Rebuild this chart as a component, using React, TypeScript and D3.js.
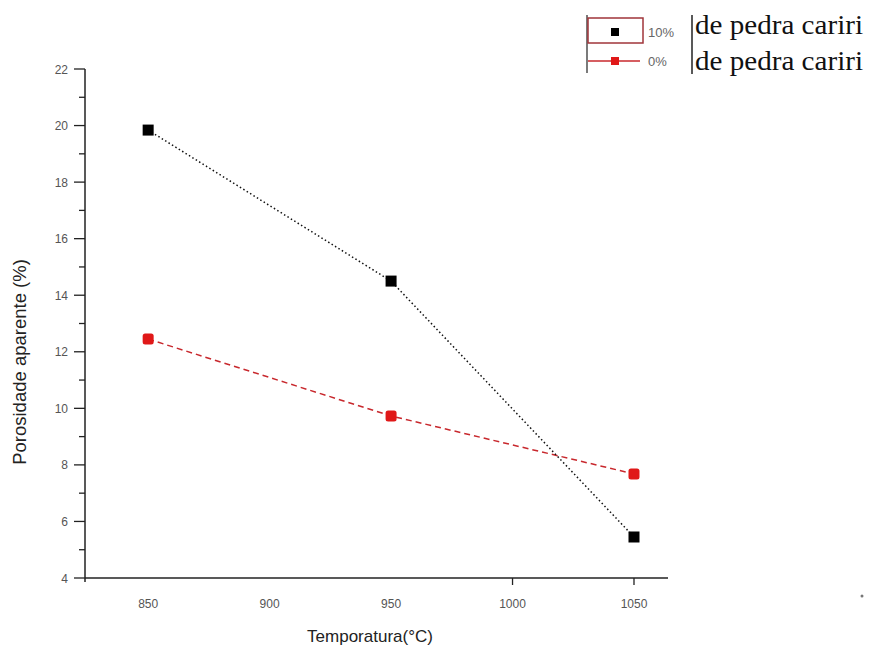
import React from "react";
import * as d3 from "d3";

const temperatures = [850, 950, 1050];
const series10 = [19.84, 14.5, 5.45];
const series0 = [12.45, 9.73, 7.68];
const xTickValues = [850, 900, 950, 1000, 1050];
const xTicksWithMarks = [1000, 1050];
const yMajorTicks = [4, 6, 8, 10, 12, 14, 16, 18, 20, 22];
const yMinorTicks = [5, 7, 9, 11, 13, 15, 17, 19, 21];
const legendPercent = ["10%", "0%"];
const legendSuffix = "de pedra cariri";

export default function App() {
  const W = 873, H = 648;
  const x = d3.scaleLinear().domain([824, 1064]).range([85, 668]);
  const y = d3.scaleLinear().domain([4, 22]).range([578, 69]);
  const line = d3.line<number>().x((_, i) => x(temperatures[i])).y((d) => y(d));
  const tickFont = "'Liberation Sans', Arial, sans-serif";
  return (
    <svg width={W} height={H} style={{ position: "absolute", left: 0, top: 0, background: "#fff" }}>
      <rect width={W} height={H} fill="#fff" />
      {/* axes */}
      <line x1={x.range()[0]} x2={x.range()[1]} y1={y(4)} y2={y(4)} stroke="#222" strokeWidth={1.5} />
      <line x1={x.range()[0]} x2={x.range()[0]} y1={y(4) + 4} y2={y(22)} stroke="#222" strokeWidth={1.5} />
      {yMajorTicks.map((t) => (
        <g key={"ym" + t}>
          <line x1={x.range()[0] - 11} x2={x.range()[0]} y1={y(t)} y2={y(t)} stroke="#222" strokeWidth={1.3} />
          <text x={68} y={y(t) + 4.5} textAnchor="end" fontSize={12} fill="#555" fontFamily={tickFont}>{t}</text>
        </g>
      ))}
      {yMinorTicks.map((t) => (
        <line key={"yn" + t} x1={x.range()[0] - 6} x2={x.range()[0]} y1={y(t)} y2={y(t)} stroke="#222" strokeWidth={1.3} />
      ))}
      {xTicksWithMarks.map((t) => (
        <line key={"xt" + t} x1={x(t)} x2={x(t)} y1={y(4)} y2={y(4) + 7} stroke="#222" strokeWidth={1.3} />
      ))}
      {xTickValues.map((t) => (
        <text key={"xl" + t} x={x(t)} y={608} textAnchor="middle" fontSize={12} fill="#555" fontFamily={tickFont}>{t}</text>
      ))}
      {/* titles */}
      <text x={370} y={642} textAnchor="middle" fontSize={17} fill="#222" fontFamily={tickFont}>Temporatura(°C)</text>
      <text transform={`translate(26,362) rotate(-90)`} textAnchor="middle" fontSize={18.5} fill="#222" fontFamily={tickFont}>Porosidade aparente (%)</text>
      {/* series */}
      <path d={line(series0) || ""} fill="none" stroke="#c8282d" strokeWidth={1.5} strokeDasharray="6,4" />
      <path d={line(series10) || ""} fill="none" stroke="#111" strokeWidth={1.5} strokeDasharray="1.5,2.5" />
      {series10.map((v, i) => (
        <rect key={"b" + i} x={x(temperatures[i]) - 5.5} y={y(v) - 5.5} width={11} height={11} fill="#000" />
      ))}
      {series0.map((v, i) => (
        <rect key={"r" + i} x={x(temperatures[i]) - 5.5} y={y(v) - 5.5} width={11} height={11} rx={2.5} fill="#e01818" />
      ))}
      {/* legend */}
      <line x1={587} x2={587} y1={15} y2={73} stroke="#222" strokeWidth={1.2} />
      <rect x={588} y={18} width={55} height={25} fill="none" stroke="#a0353a" strokeWidth={1.5} />
      <rect x={611} y={28} width={8} height={8} fill="#000" />
      <line x1={588} x2={640} y1={61} y2={61} stroke="#c8282d" strokeWidth={1.5} />
      <rect x={611} y={57} width={8} height={8} fill="#e01818" />
      {legendPercent.map((p, i) => (
        <text key={"lp" + i} x={648} y={i === 0 ? 37 : 66} fontSize={13} fill="#666" fontFamily={tickFont}>{p}</text>
      ))}
      <line x1={692} x2={692} y1={15} y2={74} stroke="#222" strokeWidth={1.5} />
      {[0, 1].map((i) => (
        <text key={"ls" + i} x={695} y={i === 0 ? 34 : 70} fontSize={27} fill="#111" fontFamily="'Liberation Serif', 'Times New Roman', serif" textLength={168} lengthAdjust="spacingAndGlyphs">{legendSuffix}</text>
      ))}
      <circle cx={862} cy={596} r={1.5} fill="#777" />
    </svg>
  );
}
